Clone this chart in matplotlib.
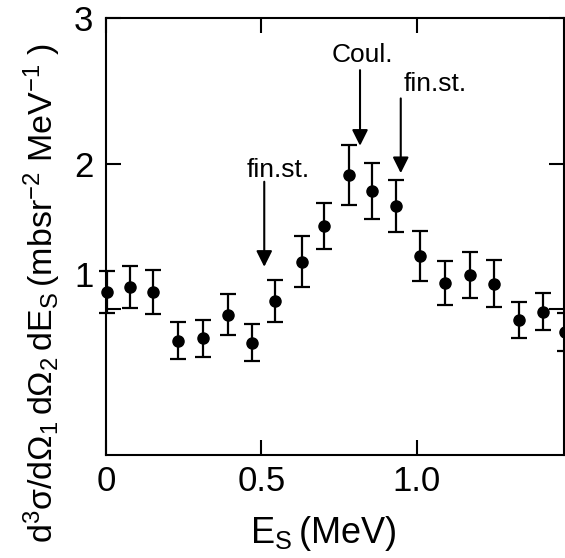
import numpy as np
import matplotlib
matplotlib.use('Agg')
import matplotlib.pyplot as plt
from matplotlib.transforms import ScaledTranslation

plt.rcParams['font.family'] = ['Liberation Sans', 'DejaVu Sans']
plt.rcParams['mathtext.default'] = 'regular'

# energy of the scattered particle (MeV) and cross section values
es = [0.004, 0.078, 0.152, 0.232, 0.313, 0.391, 0.470, 0.543, 0.629, 0.702,
      0.780, 0.856, 0.932, 1.010, 1.090, 1.170, 1.249, 1.328, 1.406, 1.476]
xsec = [1.12, 1.153, 1.119, 0.784, 0.801, 0.963, 0.771, 1.057, 1.327, 1.574,
        1.922, 1.812, 1.709, 1.368, 1.183, 1.235, 1.176, 0.927, 0.984, 0.846]
err = [0.144, 0.144, 0.149, 0.127, 0.126, 0.142, 0.127, 0.144, 0.175, 0.158,
       0.206, 0.190, 0.178, 0.172, 0.150, 0.158, 0.160, 0.124, 0.127, 0.132]

# arrow annotations: label, text pos, arrow start, arrow tip
marks = ['fin.st.', 'Coul.', 'fin.st.']
text_xy = [(0.553, 1.96), (0.825, 2.745), (1.06, 2.55)]
arrow_x = [0.509, 0.817, 0.948]
arrow_top = [1.876, 2.642, 2.448]
arrow_tip = [1.292, 2.123, 1.935]

fig = plt.figure(figsize=(5.65, 5.58), dpi=100)
ax = fig.add_axes([0.1876, 0.1846, 0.8106, 0.7831])

ax.errorbar(es, xsec, yerr=err, fmt='o', color='k', ms=8, lw=1.6,
            capsize=6, capthick=1.6, clip_on=False)

for lab, (tx, ty), ax_x, y0, y1 in zip(marks, text_xy, arrow_x, arrow_top, arrow_tip):
    ax.text(tx, ty, lab, fontsize=19, ha='center', va='center')
    ax.annotate('', xy=(ax_x, y1), xytext=(ax_x, y0),
                arrowprops=dict(arrowstyle='-|>', color='k', lw=1.5,
                                mutation_scale=24, shrinkA=0, shrinkB=0))

ax.set_xlim(0, 1.473)
ax.set_ylim(0, 3)
ax.set_xticks([0, 0.5, 1.0])
ax.set_xticklabels(['0', '0.5', '1.0'])
ax.set_yticks([1, 2, 3])
ax.set_yticklabels(['1', '2', '3'])
ax.tick_params(direction='in', length=11, width=1.5, top=True, right=True,
               labelsize=25)
ax.tick_params(axis='y', pad=9)
ax.tick_params(axis='x', pad=7)
for s in ax.spines.values():
    s.set_linewidth(1.5)

# the "1" label sits a bit above its tick in the original
lbl = ax.get_yticklabels()[0]
lbl.set_transform(lbl.get_transform() + ScaledTranslation(0, 0.35, fig.dpi_scale_trans))

ax.set_xlabel(r'$E_S\,(MeV)$', fontsize=26)
ax.xaxis.set_label_coords(0.474, -0.135)
ax.set_ylabel(r'$d^3\sigma/d\Omega_1\,d\Omega_2\,dE_S\,(mbsr^{-2}\;MeV^{-1}\;)$', fontsize=24.5)
ax.yaxis.set_label_coords(-0.093, 0.37)

fig.savefig('out.png', dpi=100)
